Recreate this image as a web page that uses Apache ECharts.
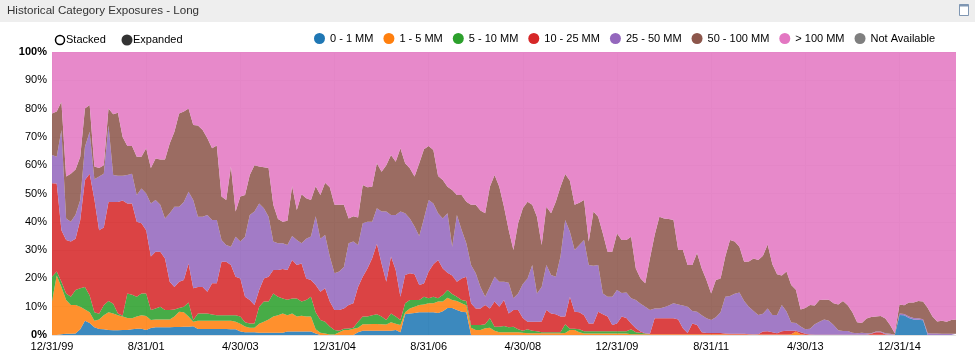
<!DOCTYPE html>
<html><head><meta charset="utf-8">
<script src="https://cdn.jsdelivr.net/npm/echarts@6/dist/echarts.min.js"></script>
<style>html,body{margin:0;padding:0;background:#fff}#c{width:975px;height:356px}</style>
</head><body><div id="c"></div><script>
const FONT = '"Liberation Sans", Arial, sans-serif';
const seriesNames = ['0 - 1 MM','1 - 5 MM','5 - 10 MM','10 - 25 MM','25 - 50 MM','50 - 100 MM','> 100 MM','Not Available'];
const colors = ['#1f77b4','#ff7f0e','#2ca02c','#d62728','#9467bd','#8c564b','#e377c2','#7f7f7f'];
const yTicks = [0,10,20,30,40,50,60,70,80,90,100];

// month-end dates from 12/31/99 to 12/31/15
const categories = [];
for (let k = 0; k < 193; k++) {
  const y = 1999 + Math.floor((11 + k) / 12);
  const m = (11 + k) % 12;
  const d = new Date(Date.UTC(y, m + 1, 0)).getUTCDate();
  categories.push((m + 1) + '/' + d + '/' + String(y % 100).padStart(2, '0'));
}

const s0to1 = [0,0,0.3,0.4,0.4,0.5,2,5,4.2,2.7,
2.1,2,1.8,1.7,1.7,1.8,1.8,2,2.2,2.2,
1.8,2.5,2.7,2.7,2.7,2.7,2.8,2.8,2.9,2.9,
3.1,2.1,2.1,2.1,2.1,2.1,2.1,2.1,2,2,
1.2,1,1,1,0.8,0.8,0.8,0.8,0.8,0.8,
1.2,1.2,1.2,1.2,1.2,1.2,0.5,0,0,0,
0,0,0,0,0,1,1.5,1.5,1.5,1.5,
1.5,1.5,1.5,1.8,1,7.3,7.6,7.8,8,8,
8,8,7.8,8.4,9.5,9.5,8.8,8.2,8,0,
0,0,0,0,0,0,0,0,0,0,
0,0,0,0,0,0,0,0,0,0,
0,0,0,0,0,0,0,0,0,0,
0,0,0,0,0,0,0,0,0,0,
0,0,0,0,0,0,0,0,0,0,
0,0,0,0,0,0,0,0,0,0,
0,0,0,0,0,0,0,0,0,0,
0,0,0,0,0,0,0,0,0,0,
0,0,0,0,0,0,0,0,0,0,
7.1,7,6,5.5,5.4,5.2,0,0,0,0,
0,0,0];

const s1to5 = [11.8,21,16.7,12,10.2,10.1,8,4,3.8,2.3,
3.4,5,6.2,5.9,5.3,4.7,4.2,3.9,4.3,4.8,
4.9,2.8,2.8,2.8,2.8,2.8,3.7,5.4,5.1,3.6,
1.6,2.9,2.9,2.9,2.9,2.9,2.9,2.9,3,2.7,
2.8,2,1.6,1.6,3.2,3.9,4.7,5.7,6.2,6.8,
5.8,6.4,5.3,5.6,5.3,5.3,1.5,0.8,0.5,0.2,
0.2,1,1.8,1.8,2.2,1.6,2.3,2.3,2.4,2.4,
2.3,2.2,3,2.2,2.5,0.7,1.8,2.2,2.6,2.8,
3.2,3.2,4,3.4,3.7,2.9,3.2,3,2.5,2.6,
1.8,1.8,2.4,2.6,1.5,1,1,1,1,1,
0.8,0.6,0.6,0.6,0.6,0.6,0.6,0.6,0.6,0.7,
1.8,1.8,1,0.5,0.5,0.5,0.5,0.5,0.5,0.5,
0.5,0.5,0.5,0.3,0.3,0.3,0.3,0.3,0.3,0.3,
0.3,0.3,0.3,0.3,0.3,0.3,0.3,0.3,0.3,0.3,
0.3,0.3,0.3,0.3,0.2,0.2,0.2,0.2,0.2,0.2,
0.2,0.2,0.2,0.2,0.2,0.2,0.2,0.3,1.2,0.3,
0.1,0.1,0.1,0.1,0.1,0.1,0.1,0.1,0.1,0.1,
0.1,0.1,0.1,0.1,0.1,0.1,0.1,0.1,0.1,0.1,
0,0,0,0,0,0,0,0,0,0,
0,0,0];

const s5to10 = [8.8,1.4,1.8,2.3,2.9,5.3,6.5,8,6,3,
2,3.5,4,3.4,0.6,0.3,8.7,8.3,7,7.7,
8,3.5,3.9,4.5,3.3,3.3,2.5,1.3,2,5,
0.6,2.6,2.6,2.6,2.2,2,2,2,2,2.3,
2.5,1.5,1.5,1.5,6,7.1,6.3,8.2,6.5,5.3,
5.5,5.3,6.4,5,5.9,7,6,4.5,4.2,2.8,
1.6,0.5,0.4,0.5,0.4,2.1,2.7,2.7,3.1,3.4,
2.7,1.6,3.1,2.5,1.8,3.2,3,2.4,1.8,2.7,
1.8,2.3,1.2,2.3,2.7,2.1,1.5,1.2,1.5,0.9,
1.7,1.7,1.4,3.3,1.4,1.9,2.2,1.7,1.9,1,
0.7,1.4,0.9,0.7,0.4,0.4,0.4,0.4,0.4,3.1,
0.4,0.4,1,0.8,0.8,0.8,0.8,0.8,0.8,0.8,
0.8,0.8,0.8,1.7,0.7,0.5,0.2,0,0,0,
0,0,0,0,0,0,0,0,0,0,
0,0,0,0,0,0,0,0,0,0,
0,0,0,0,0,0,0,0,0,0,
0,0,0,0,0,0,0,0,0,0,
0,0,0,0,0,0,0,0,0,0,
0,0,0,0,0,0,0,0,0,0,
0,0,0];

const s10to25 = [33,31.1,18.2,18.9,19.5,18.1,24.1,37.8,43,40,
29.5,27.5,35,36,39.4,40.7,31.8,32.3,26.5,24.8,
22.3,18.9,20,19.4,18.2,10,8,9.3,9.4,13.8,
11.2,9.4,9.4,7.7,11.1,11.3,18.9,18.9,17.7,13.6,
13.5,9,8.3,6.5,5.9,8.2,8.8,8.3,9.5,10.4,
10.5,13.6,11.8,13.5,7.6,5.9,9.7,10,11.8,8.8,
7,7.3,7.2,8.3,8.6,12.3,14.1,17,20.1,24.9,
18.8,13.5,20.1,16.5,8.2,10,9.4,9.1,5.3,4.7,
9.4,11.5,13.5,9.4,6.1,6.5,5.3,7.6,8.6,7.7,
5.9,5.9,6.8,3.5,8.9,7.1,9.2,4.9,5.9,6.8,
4.5,2.7,3.2,3.4,3.8,7.8,6.6,6.3,5.5,2.7,
11.3,6,6,5.7,2.8,2.8,6.9,6,5.2,2.2,
2.8,5.2,4.7,2.1,1.4,0.4,0.1,0.1,5.6,5.6,
5.6,5.6,5.6,5.2,2.1,0.4,3.8,3.2,0.7,0.4,
0.4,0.4,0.4,0.2,0.2,0.2,0.2,0.2,0.1,0,
0.1,1,1.1,0.8,0.4,1.1,1.3,1.2,0.3,0.7,
0.3,0.1,0,0,0,0,0,0,0,0,
0,0,0,0,0.3,0.9,0.9,0.2,0,0,
0,0,0,0,0,0,0,0,0,0,
0,0,0];

const s25to50 = [10,9.5,35.4,7.6,7,8.5,7.1,11.7,14.8,7,
19,19,27,9.5,9.3,8.8,10,10.5,9.5,12.3,
13,18.8,18.3,16.6,14.2,24.2,28.3,26.5,27.6,25.3,
31.2,24.8,24.8,27.1,22.3,22.3,7.7,5.9,6.5,14.1,
13,21.2,30,33,30.6,24.8,21.2,10,9.4,9.1,
8.8,8.5,8.9,7.1,14,15.4,24.3,18.7,18.8,15.9,
13,13.6,14.6,21.8,21.8,14.8,18.9,16.5,12.9,12.6,
18.3,24.8,14.7,19.4,30.1,21.8,19.4,16.8,17.3,23,
25.3,21.5,16.5,17.7,21,10.2,23.6,17.1,11.8,13.5,
12.4,7.6,2.9,7.6,8.8,8.8,6.4,10.9,4.2,5.9,
12,15.3,20,10,12.2,15.9,13.6,13.3,21.2,34.1,
23,21.8,23.8,26.6,20.6,20.4,16.5,7.4,7,10,
11.8,8.3,9,8.9,10,9.8,9.4,8.4,3.5,3.5,
3.9,4.5,5.3,5.3,8,9.3,4.4,4.7,6,5.2,
4.6,5.6,7.3,13,13.4,14.2,14.6,11.6,9.7,8.3,
6.8,6.3,8.1,6.1,6.5,9.3,6.8,2.9,2.7,2,
1.6,2,3.7,4.6,5.4,4.9,3.4,1.6,1.3,1.3,
0.7,0.5,0.7,0.5,0.2,0.2,0.2,0.3,0.3,0.1,
0.5,0.4,0.5,0.5,0.5,0.4,0.6,0.5,0.5,0.4,
0.4,0.4,0.4];

const s50to100 = [14.7,16,10,14.8,17,16,15.3,13.5,9.5,4.5,
3,3,6,21.5,22.2,13.7,10.3,9.8,13.5,11.2,
16,12.5,14.7,16,20.8,24.7,26.5,33,32,29.4,
26.5,32.2,30.6,27.1,25.4,26.4,15.3,15.9,28.3,8.9,
15.9,14.8,14.1,16.4,13,14.5,17.2,13,8.6,7.6,
8.6,17.6,10.6,17.3,14.3,12.9,10.6,15.5,18.5,24.5,
24.2,23.6,22,8.8,9,9.7,13.5,12.2,12.4,15.9,
14.1,16.4,21.2,18.8,22.4,17.7,17.7,17.7,25.7,24.4,
19.1,18.9,13.2,13.6,9.4,20,7.1,12.4,14.7,21.3,
24.2,27,29.5,35.4,35.9,33.6,26.5,18.6,17,24.8,
26.8,27.1,21.3,27.1,14.8,20.6,21.8,26.5,24.7,16.3,
18,16,14.9,14.1,8.3,19.1,17.1,21.2,15.9,15.9,
20,18.8,18.6,21.7,11.1,9,8.3,18.3,25.9,32.4,
31.4,30.6,29.4,19.2,19.6,14.7,16.2,20.8,16.5,13.5,
9.4,13.1,12,14.2,19.8,18.4,16.2,13.9,16,18.5,
19.4,20.5,22.6,17.9,14.4,10.4,14.1,13.3,11.8,6,
7.5,8.4,6.6,7.7,7,7.5,7.7,9.1,10.6,9.1,
7.2,3.9,3.4,5.2,5.8,5.3,5.5,5.2,3.1,0.4,
3.2,3.1,5,5.5,6.1,6.2,8.9,6,4.3,4.6,
4.3,4.9,5.1];

const sOver100 = [21.7,21,17.6,44,43,41.5,37,20,18.7,40.5,
41,40,20,22,21.5,30,33.2,33.2,37,37,
34,41,37.6,38,38,32.3,28.2,21.7,21,20,
25.8,26,27.6,30.5,34,33,51.1,52.3,40.5,56.4,
51.1,50.5,43.5,40,40.5,40.7,41,54,59,60,
59.6,47.4,55.8,50.3,51.7,52.3,47.4,50.5,46.2,47.8,
54,54,54,58.8,58,58.5,47,47.8,47.6,39.3,
42.3,40,36.4,38.8,34,39.3,41.1,44,39.3,34.4,
33.2,34.6,43.8,45.2,47.6,48.8,50.5,50.5,52.9,54,
54,56,57,47.6,43.5,47.6,54.7,62.9,70,60.5,
55.2,52.9,54,58.2,68.2,54.7,57,52.9,47.6,43.1,
45.5,54,53.3,52.3,67,56.4,58.2,64.1,70.6,70.6,
64.1,66.4,66.4,65.3,76.5,80,81.7,72.9,64.7,58.2,
58.8,59,59.4,70,70,75.3,75.3,71,76.5,80.6,
85.3,80.6,80,72.3,66.4,67,68.8,74.1,74,73,
73.5,72,68,75,78.5,79,77.6,82.3,84,91,
90.5,89.4,89.6,87.6,87.5,87.5,88.8,89.2,88,89.5,
92,95.5,95.8,94.2,93.6,93.5,93.3,94.2,96.5,99.4,
89.2,89.5,88.5,88.5,88,88.2,90.5,93.5,95.2,95,
95.3,94.7,94.5];

const sNotAvailable = new Array(193).fill(0);

const seriesData = [s0to1, s1to5, s5to10, s10to25, s25to50, s50to100, sOver100, sNotAvailable];

const chart = echarts.init(document.getElementById('c'), null, {renderer: 'canvas'});
chart.setOption({
  animation: false,
  textStyle: {fontFamily: FONT},
  grid: {left: 52, right: 19, top: 52, bottom: 21, containLabel: false},
  legend: {
    data: seriesNames, left: 314, top: 33, width: 700, icon: 'circle', itemWidth: 11, itemHeight: 11, itemGap: 10,
    padding: 0,
    selectedMode: false,
    textStyle: {fontSize: 11, color: '#000', fontFamily: FONT}
  },
  xAxis: {
    type: 'category', data: categories, boundaryGap: false,
    axisLine: {show: false}, axisTick: {show: false},
    axisLabel: {interval: 19, fontSize: 11, color: '#000', margin: 6, fontFamily: FONT},
    splitLine: {show: true, interval: 19, lineStyle: {color: '#e2e2e2', width: 1}}
  },
  yAxis: {
    type: 'value', min: 0, max: 100, interval: 10,
    axisLine: {show: false}, axisTick: {show: false},
    axisLabel: {
      fontSize: 11, color: '#000', margin: 5, fontFamily: FONT,
      formatter: v => (v === yTicks[0] || v === yTicks[yTicks.length - 1]) ? '{b|' + v + '%}' : v + '%',
      rich: {b: {fontWeight: 'bold', fontSize: 11, color: '#000', fontFamily: FONT}}
    },
    splitLine: {show: true, lineStyle: {color: '#e2e2e2', width: 1}}
  },
  series: seriesNames.map((n, k) => ({
    name: n, type: 'line', stack: 'total', data: seriesData[k],
    symbol: 'none', showSymbol: false, smooth: false,
    lineStyle: {width: 0, color: colors[k]},
    itemStyle: {color: colors[k]},
    areaStyle: {color: colors[k], opacity: 0.87},
    emphasis: {disabled: true}, silent: true
  })),
  graphic: [
    {type: 'rect', shape: {x: 0, y: 0, width: 975, height: 22}, style: {fill: '#eeeeee'}, z: 10},
    {type: 'text', x: 7, y: 11, style: {text: 'Historical Category Exposures - Long', fontSize: 11.6, fill: '#333', fontFamily: FONT, verticalAlign: 'middle'}, z: 11},
    {type: 'rect', shape: {x: 959.5, y: 4.5, width: 9, height: 11}, style: {fill: '#fff', stroke: '#7f96b2', lineWidth: 1}, z: 11},
    {type: 'rect', shape: {x: 959.5, y: 4.5, width: 9, height: 2}, style: {fill: '#7f96b2'}, z: 12},
    {type: 'circle', shape: {cx: 60, cy: 40, r: 4.5}, style: {fill: '#fff', stroke: '#000', lineWidth: 1.5}, z: 11},
    {type: 'text', x: 66, y: 40, style: {text: 'Stacked', fontSize: 11, fill: '#000', fontFamily: FONT, verticalAlign: 'middle'}, z: 11},
    {type: 'circle', shape: {cx: 127, cy: 40, r: 5.5}, style: {fill: '#333'}, z: 11},
    {type: 'text', x: 133, y: 40, style: {text: 'Expanded', fontSize: 11, fill: '#000', fontFamily: FONT, verticalAlign: 'middle'}, z: 11}
  ]
});
</script></body></html>
